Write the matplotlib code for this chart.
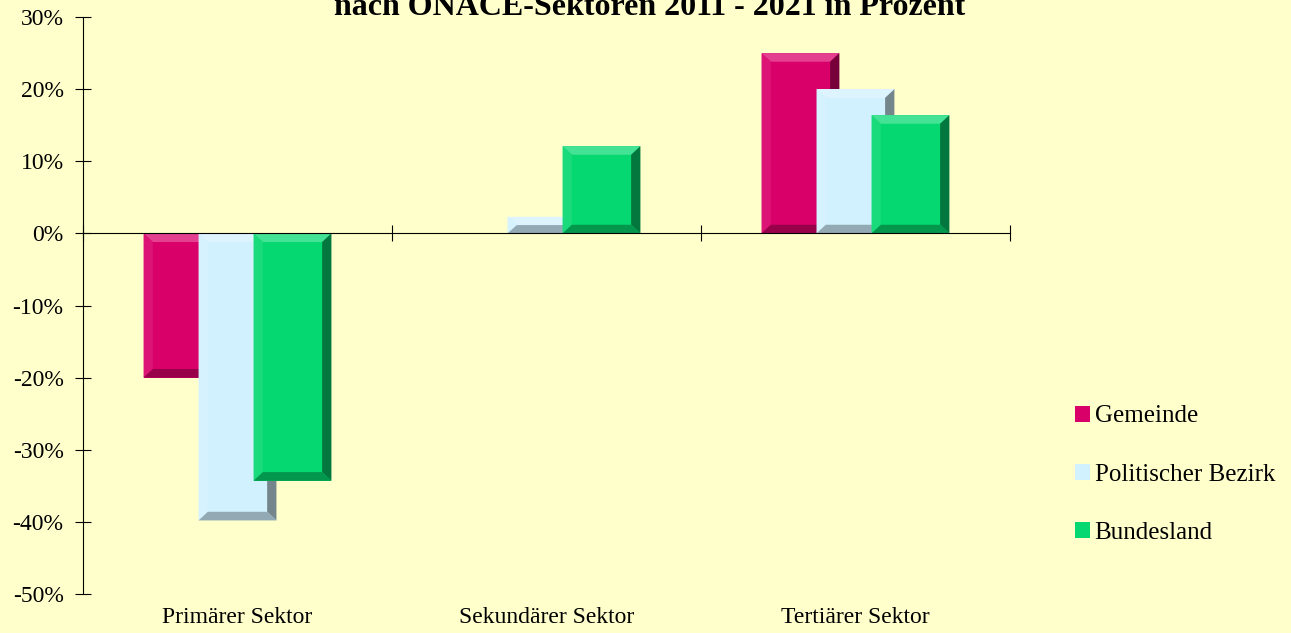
import matplotlib.pyplot as plt
from matplotlib.patches import Polygon
import matplotlib.colors as mcolors

categories = ["Primärer Sektor", "Sekundärer Sektor", "Tertiärer Sektor"]
series = ["Gemeinde", "Politischer Bezirk", "Bundesland"]
gemeinde = [-20.0, 0.0, 25.0]
bezirk = [-39.8, 2.3, 20.0]
bundesland = [-34.3, 12.1, 16.4]
yticks = [30, 20, 10, 0, -10, -20, -30, -40, -50]

values = [gemeinde, bezirk, bundesland]
colors = ["#d9006a", "#d2f1ff", "#05d870"]
bg = "#ffffcc"

plt.rcParams['font.family'] = ['Liberation Serif', 'DejaVu Serif']

fig = plt.figure(figsize=(12.91, 6.33), dpi=100, facecolor=bg)
ax = fig.add_axes([0.0643, 0.0616, 0.7180, 0.9115])
ax.set_facecolor(bg)


def shade(c, f):
    r, g, b = mcolors.to_rgb(c)
    if f >= 0:
        return (r + (1 - r) * f, g + (1 - g) * f, b + (1 - b) * f)
    return (r * (1 + f), g * (1 + f), b * (1 + f))


def bevel(ax, patch, color):
    x, y = patch.get_x(), patch.get_y()
    w, h = patch.get_width(), patch.get_height()
    if h < 0:
        y, h = y + h, -h
    dx = 0.03
    dy = min(1.2, h / 2)
    x0, x1, y0, y1 = x, x + w, y, y + h
    parts = [
        ([(x0, y1), (x1, y1), (x1 - dx, y1 - dy), (x0 + dx, y1 - dy)], 0.25),
        ([(x0, y0), (x0, y1), (x0 + dx, y1 - dy), (x0 + dx, y0 + dy)], 0.08),
        ([(x1, y0), (x1, y1), (x1 - dx, y1 - dy), (x1 - dx, y0 + dy)], -0.45),
        ([(x0, y0), (x1, y0), (x1 - dx, y0 + dy), (x0 + dx, y0 + dy)], -0.3),
    ]
    for pts, f in parts:
        ax.add_patch(Polygon(pts, closed=True, facecolor=shade(color, f),
                             edgecolor='none', zorder=patch.get_zorder()))


width = 0.252
offset = 0.178
centers = [i + 0.5 for i in range(len(categories))]
for k, name in enumerate(series):
    xs = [c + (k - 1) * offset for c in centers]
    bars = ax.bar(xs, values[k], width=width, color=colors[k], label=name,
                  zorder=2 + k, linewidth=0)
    for p in bars:
        if abs(p.get_height()) > 0:
            bevel(ax, p, colors[k])

ax.set_xlim(0, 3)
ax.set_ylim(-50, 30)
ax.set_yticks(yticks)
ax.set_yticklabels([f"{t}%" for t in yticks], fontsize=17)
ax.tick_params(axis='y', direction='inout', length=12, width=0.8, pad=8)

for s in ['top', 'right']:
    ax.spines[s].set_visible(False)
ax.spines['bottom'].set_position(('data', 0))
ax.spines['bottom'].set_zorder(10)
ax.spines['left'].set_linewidth(0.8)
ax.spines['bottom'].set_linewidth(0.8)
ax.set_xticks([0, 1, 2, 3])
ax.set_xticklabels([])
ax.tick_params(axis='x', direction='inout', length=12, width=0.8)

for c, lab in zip(centers, categories):
    ax.text(c, -0.022, lab, transform=ax.get_xaxis_transform(),
            ha='center', va='top', fontsize=17)

fig.text(0.503, 0.976, "nach ÖNACE-Sektoren 2011 - 2021 in Prozent",
         ha='center', va='baseline', fontsize=23, fontweight='bold')

handles, labels = ax.get_legend_handles_labels()
fig.legend(handles, labels, loc='upper left', bbox_to_anchor=(0.815, 0.395),
           frameon=False, fontsize=18, handlelength=0.6, handleheight=0.6,
           handletextpad=0.2, labelspacing=1.45)

fig.savefig("out.png", dpi=100, facecolor=bg)
